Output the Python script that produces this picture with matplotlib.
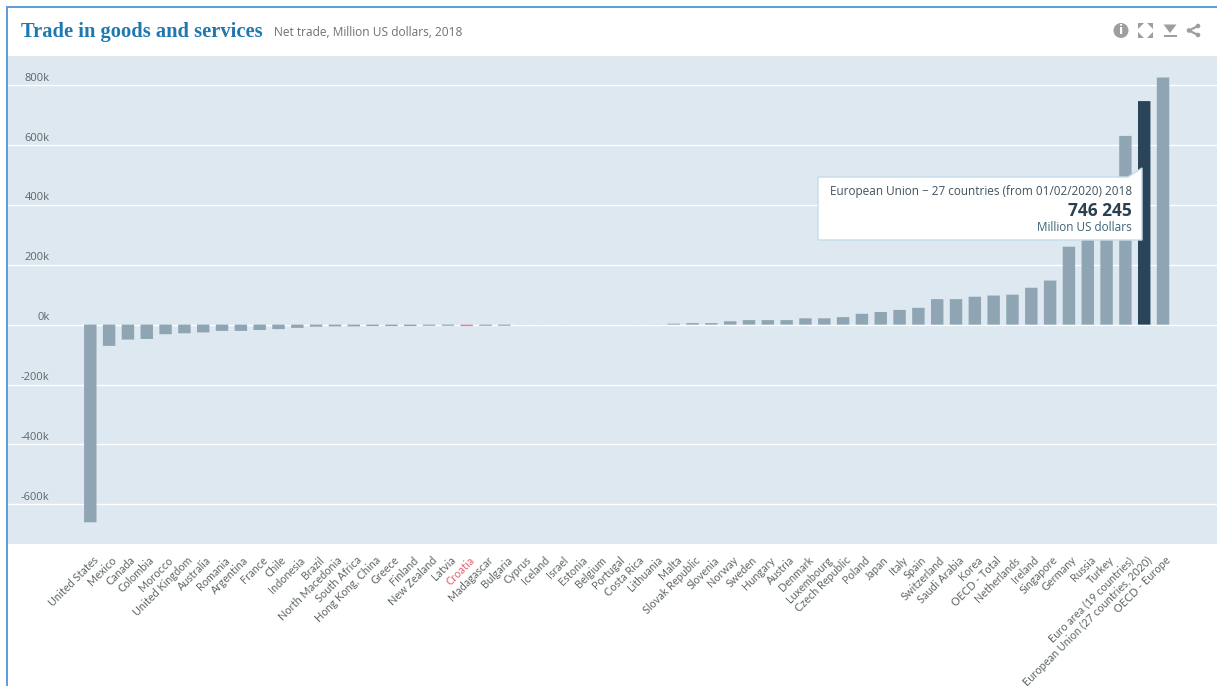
import matplotlib
matplotlib.use("Agg")
import matplotlib.pyplot as plt
from matplotlib.patches import Polygon, Circle, Rectangle

countries = ["United States", "Mexico", "Canada", "Colombia", "Morocco", "United Kingdom",
             "Australia", "Romania", "Argentina", "France", "Chile", "Indonesia", "Brazil",
             "North Macedonia", "South Africa", "Hong Kong, China", "Greece", "Finland",
             "New Zealand", "Latvia", "Croatia", "Madagascar", "Bulgaria", "Cyprus", "Iceland",
             "Israel", "Estonia", "Belgium", "Portugal", "Costa Rica", "Lithuania", "Malta",
             "Slovak Republic", "Slovenia", "Norway", "Sweden", "Hungary", "Austria", "Denmark",
             "Luxembourg", "Czech Republic", "Poland", "Japan", "Italy", "Spain", "Switzerland",
             "Saudi Arabia", "Korea", "OECD - Total", "Netherlands", "Ireland", "Singapore",
             "Germany", "Russia", "Turkey", "Euro area (19 countries)",
             "European Union (27 countries, 2020)", "OECD - Europe"]
net_trade_k = [-660, -71, -50, -48, -32, -29, -26, -21, -21, -18, -15, -11, -7,
               -6, -6, -5, -5, -5, -4, -4, -5, -4, -4, -0.3, -0.2,
               -0.2, -0.1, 0.1, 0.1, 0.2, 0.3, 3,
               5, 5, 11, 15, 15, 15, 21,
               21, 25, 36, 42, 49, 56, 85,
               85, 93, 97, 100, 123, 147,
               260, 290, 300, 630,
               746.245, 825]
yticks_k = [-600, -400, -200, 0, 200, 400, 600, 800]
highlight = "European Union (27 countries, 2020)"
negative_accent = "Croatia"
title = "Trade in goods and services"
subtitle = "Net trade, Million US dollars, 2018"
tip_lines = ["European Union \u2212 27 countries (from 01/02/2020) 2018", "746 245", "Million US dollars"]

W, H = 1217, 686
L, R, T, B = 8, 1217, 56, 544
X0, DX = 90.3, 18.82
Y0, PX_PER_K = 324.6, 0.2995

fig = plt.figure(figsize=(W / 100, H / 100), dpi=100, facecolor="white")
ax = fig.add_axes([L / W, 1 - B / H, (R - L) / W, (B - T) / H], facecolor="#dde8f1")
ax.set_xlim((L - X0) / DX, (R - X0) / DX)
ax.set_ylim((Y0 - B) / PX_PER_K, (Y0 - T) / PX_PER_K)

colors = []
for c in countries:
    if c == highlight:
        colors.append("#2a4459")
    elif c == negative_accent:
        colors.append("#ee7f8b")
    else:
        colors.append("#8fa5b3")
xs = list(range(len(countries)))
bars = ax.bar(xs, net_trade_k, width=0.66, color=colors, linewidth=0, zorder=3)
for b in bars:
    b.set_snap(False)

ax.set_yticks(yticks_k)
ax.set_yticklabels([])
ax.tick_params(axis="both", length=0)
ax.grid(axis="y", color="white", linewidth=1.0, zorder=1)
ax.set_axisbelow(True)
for s in ax.spines.values():
    s.set_visible(False)
ax.set_xticks(xs)
ax.set_xticklabels([])

font = ["Open Sans", "DejaVu Sans"]
label_font = ["Lato", "DejaVu Sans"]
for v in yticks_k:
    ax.text((49.5 - X0) / DX, v + 6.8 / PX_PER_K, f"{v}k", ha="right", va="center",
            fontsize=8, color="#5f6668", family=font, zorder=5)

for c, x in zip(countries, xs):
    col = "#e8606f" if c == negative_accent else "#5f6668"
    ax.annotate(c, xy=(x, 0), xycoords=("data", "axes fraction"), xytext=(1.5, -7.6),
                textcoords="offset points", rotation=45, ha="right", va="top",
                rotation_mode="anchor", fontsize=7.85, color=col, family=label_font,
                annotation_clip=False)

ov = fig.add_axes([0, 0, 1, 1], facecolor="none")
ov.set_xlim(0, W)
ov.set_ylim(H, 0)
ov.axis("off")
ov.set_zorder(10)

border = "#5c9fdc"
ov.add_patch(Rectangle((6, 6), W - 6, 1.8, color=border, lw=0))
ov.add_patch(Rectangle((6, 6), 1.8, H - 6, color=border, lw=0))

ov.text(21, 32.5, title, fontsize=14.75, color="#1f78b0", family="Liberation Serif",
        weight="bold", ha="left", va="center")
ov.text(274, 32, subtitle, fontsize=8.55, color="#6a7274", family=font, ha="left", va="center")

# tooltip
ov.add_patch(Polygon([(818, 177), (1128, 177), (1142, 168), (1142, 240), (818, 240)],
                     closed=True, facecolor="white", edgecolor="#c5dcea", lw=1, zorder=6))
ov.text(1132, 191.5, tip_lines[0], fontsize=8.5, color="#41525d", family=font,
        ha="right", va="center", zorder=7)
ov.text(1132, 210.5, tip_lines[1], fontsize=12.5, color="#2a3f4f", family=font, weight="bold",
        ha="right", va="center", zorder=7)
ov.text(1132, 227.5, tip_lines[2], fontsize=8.5, color="#3c6478", family=font,
        ha="right", va="center", zorder=7)

# toolbar icons
ic = "#9e9e9e"
ov.add_patch(Circle((1121, 30.5), 7.5, color=ic, lw=0))
ov.text(1121, 30.5, "i", fontsize=9, weight="bold", color="white", ha="center", va="center",
        family="DejaVu Sans")
for sx, sy in [(-1, -1), (1, -1), (-1, 1), (1, 1)]:
    cx, cy = 1145.5 + sx * 7.5, 30.5 + sy * 7.5
    ov.add_patch(Polygon([(cx, cy), (cx - sx * 6, cy), (cx, cy - sy * 6)], color=ic, lw=0))
ov.add_patch(Polygon([(1163.5, 24.5), (1176.5, 24.5), (1170, 33)], color=ic, lw=0))
ov.add_patch(Rectangle((1163.5, 34.5), 13, 2, color=ic, lw=0))
ov.plot([1198, 1189, 1198], [26, 30.5, 35], color=ic, lw=1.6)
for p in [(1198, 26), (1189, 30.5), (1198, 35)]:
    ov.add_patch(Circle(p, 2.3, color=ic, lw=0))

fig.savefig("out.png", dpi=100)
